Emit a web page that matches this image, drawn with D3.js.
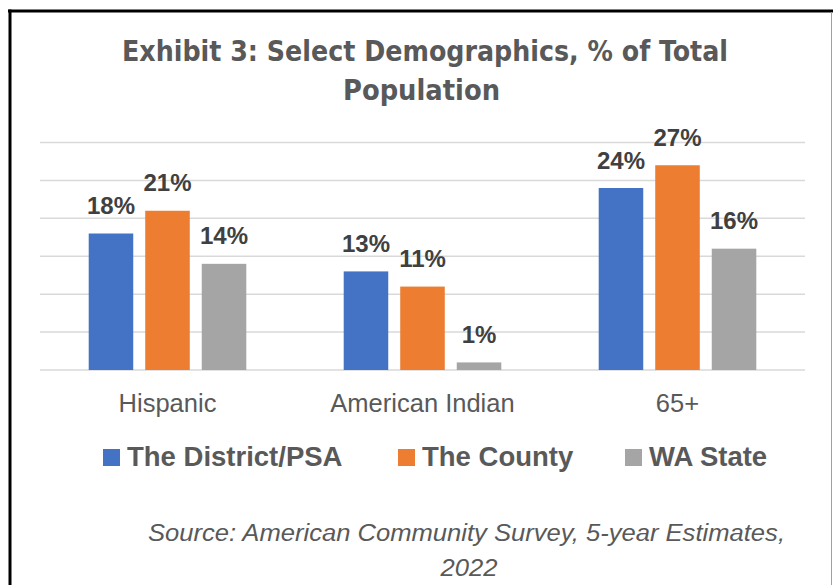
<!DOCTYPE html>
<html>
<head>
<meta charset="utf-8">
<script src="https://cdn.jsdelivr.net/npm/d3@7"></script>
<style>
  body { margin: 0; background: #fff; }
  svg { display: block; }
</style>
</head>
<body>
<script>
// data
const categories = ["Hispanic", "American Indian", "65+"];
const seriesNames = ["The District/PSA", "The County", "WA State"];
const district = [18, 13, 24];
const county = [21, 11, 27];
const waState = [14, 1, 16];
const yTicks = [0, 5, 10, 15, 20, 25, 30];

const colors = ["#4472c4", "#ed7d31", "#a5a5a5"];
const seriesValues = [district, county, waState];

const WIDTH = 833
const HEIGHT = 585

const svg = d3.select("body").append("svg")
  .attr("width", WIDTH)
  .attr("height", HEIGHT)

// frame
svg.append("line").attr("x1", 8).attr("x2", 833).attr("y1", 11).attr("y2", 11)
  .attr("stroke", "#000").attr("stroke-width", 3)
svg.append("line").attr("x1", 10).attr("x2", 10).attr("y1", 9.5).attr("y2", 585)
  .attr("stroke", "#000").attr("stroke-width", 3)
svg.append("line").attr("x1", 831.5).attr("x2", 831.5).attr("y1", 12).attr("y2", 585)
  .attr("stroke", "#a0a0a0").attr("stroke-width", 1)

// title
const title = svg.append("g")
  .attr("font-family", "'Liberation Sans Narrow', 'DejaVu Sans Condensed', 'Liberation Sans', sans-serif")
  .attr("font-weight", "bold")
  .attr("font-size", 29)
  .attr("fill", "#595959")
  .attr("text-anchor", "middle")
title.append("text").attr("x", 425).attr("y", 61)
  .attr("textLength", 606).attr("lengthAdjust", "spacingAndGlyphs")
  .text("Exhibit 3: Select Demographics, % of Total")
title.append("text").attr("x", 421.5).attr("y", 100)
  .attr("textLength", 157).attr("lengthAdjust", "spacingAndGlyphs")
  .text("Population")

// scales
const x0 = d3.scaleBand()
  .domain(categories)
  .range([40, 805])
  .paddingInner(0.382)
  .paddingOuter(0.191)

const x1 = d3.scaleBand()
  .domain(seriesNames)
  .range([0, x0.bandwidth()])
  .paddingInner(0.212)

const y = d3.scaleLinear()
  .domain([0, 30])
  .range([370, 142.5])

// gridlines
svg.append("g").selectAll("line")
  .data(yTicks)
  .enter()
  .append("line")
  .attr("x1", 40)
  .attr("x2", 805)
  .attr("y1", d => y(d))
  .attr("y2", d => y(d))
  .attr("stroke", "#d9d9d9")
  .attr("stroke-width", 1.5)

// bars
const groups = svg.append("g").selectAll("g")
  .data(categories)
  .enter()
  .append("g")
  .attr("transform", d => `translate(${x0(d)},0)`)

const cells = groups.selectAll("g")
  .data((c, ci) => seriesNames.map((s, si) => ({ s, si, v: seriesValues[si][ci] })))
  .enter()
  .append("g")

cells.append("rect")
  .attr("x", d => x1(d.s))
  .attr("y", d => y(d.v))
  .attr("width", x1.bandwidth())
  .attr("height", d => y(0) - y(d.v))
  .attr("fill", d => colors[d.si])

cells.append("text")
  .attr("x", d => x1(d.s) + x1.bandwidth() / 2)
  .attr("y", d => y(d.v) - 19.5)
  .attr("text-anchor", "middle")
  .attr("font-family", "'Liberation Sans', Arial, sans-serif")
  .attr("font-weight", "bold")
  .attr("font-size", 24)
  .attr("fill", "#404040")
  .text(d => d.v + "%")

// category axis labels
svg.append("g").selectAll("text")
  .data(categories)
  .enter()
  .append("text")
  .attr("x", d => x0(d) + x0.bandwidth() / 2)
  .attr("y", 411.5)
  .attr("text-anchor", "middle")
  .attr("font-family", "'Liberation Sans', Arial, sans-serif")
  .attr("font-size", 25.5)
  .attr("fill", "#595959")
  .text(d => d)

// legend
const legendX = [103, 398, 625];
const legend = svg.append("g").selectAll("g")
  .data(seriesNames)
  .enter()
  .append("g")
  .attr("transform", (d, i) => `translate(${legendX[i]},0)`)

legend.append("rect")
  .attr("x", 0)
  .attr("y", 449)
  .attr("width", 17)
  .attr("height", 17)
  .attr("fill", (d, i) => colors[i])

legend.append("text")
  .attr("x", 24)
  .attr("y", 466)
  .attr("font-family", "'Liberation Sans', Arial, sans-serif")
  .attr("font-weight", "bold")
  .attr("font-size", 27.5)
  .attr("fill", "#595959")
  .text(d => d)

// source note
const note = svg.append("g")
  .attr("font-family", "'Liberation Sans Narrow', 'Liberation Sans', sans-serif")
  .attr("font-style", "italic")
  .attr("font-size", 23)
  .attr("fill", "#595959")
  .attr("text-anchor", "middle")
note.append("text").attr("x", 466.5).attr("y", 541)
  .attr("textLength", 637).attr("lengthAdjust", "spacingAndGlyphs")
  .text("Source: American Community Survey, 5-year Estimates,")
note.append("text").attr("x", 469).attr("y", 576)
  .attr("textLength", 57).attr("lengthAdjust", "spacingAndGlyphs")
  .text("2022")
</script>
</body>
</html>
